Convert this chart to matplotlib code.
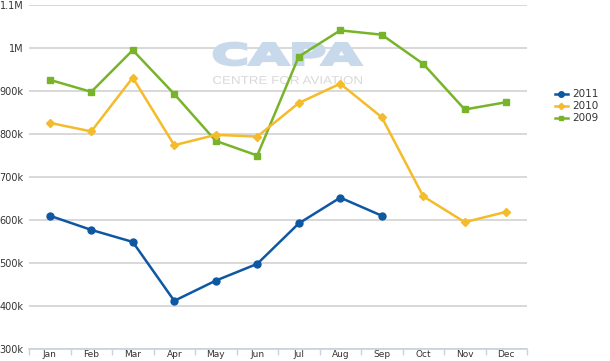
import matplotlib
matplotlib.use("Agg")
import matplotlib.pyplot as plt
import numpy as np
from matplotlib.textpath import TextPath
from matplotlib.patches import PathPatch
from matplotlib.font_manager import FontProperties
from matplotlib.transforms import Affine2D, IdentityTransform

months = ["Jan", "Feb", "Mar", "Apr", "May", "Jun", "Jul", "Aug", "Sep", "Oct", "Nov", "Dec"]
s2011 = [610, 577, 549, 412, 459, 498, 592, 652, 610]
s2010 = [826, 806, 931, 774, 798, 794, 872, 917, 839, 655, 595, 619]
s2009 = [926, 898, 995, 893, 784, 750, 980, 1041, 1031, 963, 857, 874]
yticks = [300, 400, 500, 600, 700, 800, 900, 1000, 1100]
ylabels = ["300k", "400k", "500k", "600k", "700k", "800k", "900k", "1M", "1.1M"]

W, H = 610, 361
fig = plt.figure(figsize=(W/100, H/100), dpi=100)
ax = fig.add_axes([29/W, 12/H, (527-29)/W, (349-5)/H])

ax.set_xlim(-0.5, 11.5)
ax.set_ylim(300, 1100)

for v in yticks:
    ax.axhline(v, color="#d6d6d6", lw=1.3, zorder=0)


def add_word(text, x0, x1, ytop, ybot, color, family, weight, stroke):
    tp = TextPath((0, 0), text, size=1, prop=FontProperties(family=family, weight=weight))
    ext = tp.get_extents()
    sx = (x1 - x0) / ext.width
    sy = (ybot - ytop) / ext.height
    tr = Affine2D().translate(-ext.x0, -ext.y0).scale(sx, sy).translate(x0, H - ybot)
    p = PathPatch(tr.transform_path(tp), facecolor=color, edgecolor=color if stroke else "none",
                  linewidth=stroke, transform=IdentityTransform(), zorder=1, clip_on=False)
    ax.add_artist(p)


add_word("CAPA", 214, 361, 43, 65, "#c8d9eb", "DejaVu Sans", "bold", 2.0)
add_word("CENTRE FOR AVIATION", 213, 362, 76, 84, "#d9d9d9", "Liberation Sans", "normal", 0)

x = np.arange(len(months))
c11, c10, c09 = "#0e57a2", "#f4bb2a", "#78b42a"
ax.plot(x[:len(s2011)], s2011, color=c11, lw=1.8, marker="o", ms=5, label="2011", zorder=5)
ax.plot(x, s2010, color=c10, lw=1.8, marker="D", ms=4, label="2010", zorder=4)
ax.plot(x, s2009, color=c09, lw=1.8, marker="s", ms=4, label="2009", zorder=3)

for s in ["left", "right", "top"]:
    ax.spines[s].set_visible(False)
ax.spines["bottom"].set_color("#c6d2e0")
ax.spines["bottom"].set_linewidth(1.2)

ax.set_yticks(yticks)
ax.set_yticklabels(ylabels, fontsize=7, color="#333333")
ax.tick_params(axis="y", length=0, pad=4)

ax.set_xticks(np.arange(-0.5, 12, 1))
ax.set_xticklabels([])
ax.tick_params(axis="x", which="major", length=4, color="#c6d2e0", width=1)
ax.set_xticks(x, minor=True)
ax.set_xticklabels(months, minor=True, fontsize=6.5, color="#333333")
ax.tick_params(axis="x", which="minor", length=0, pad=1)

leg = fig.legend(loc="upper left", bbox_to_anchor=(550/W, 1 - 84/H), frameon=False,
                 fontsize=7.5, handlelength=1.2, handletextpad=0.4, labelspacing=0.2,
                 borderpad=0, markerscale=0.8)
for t in leg.get_texts():
    t.set_color("#333333")

fig.savefig("out.png", dpi=100)
